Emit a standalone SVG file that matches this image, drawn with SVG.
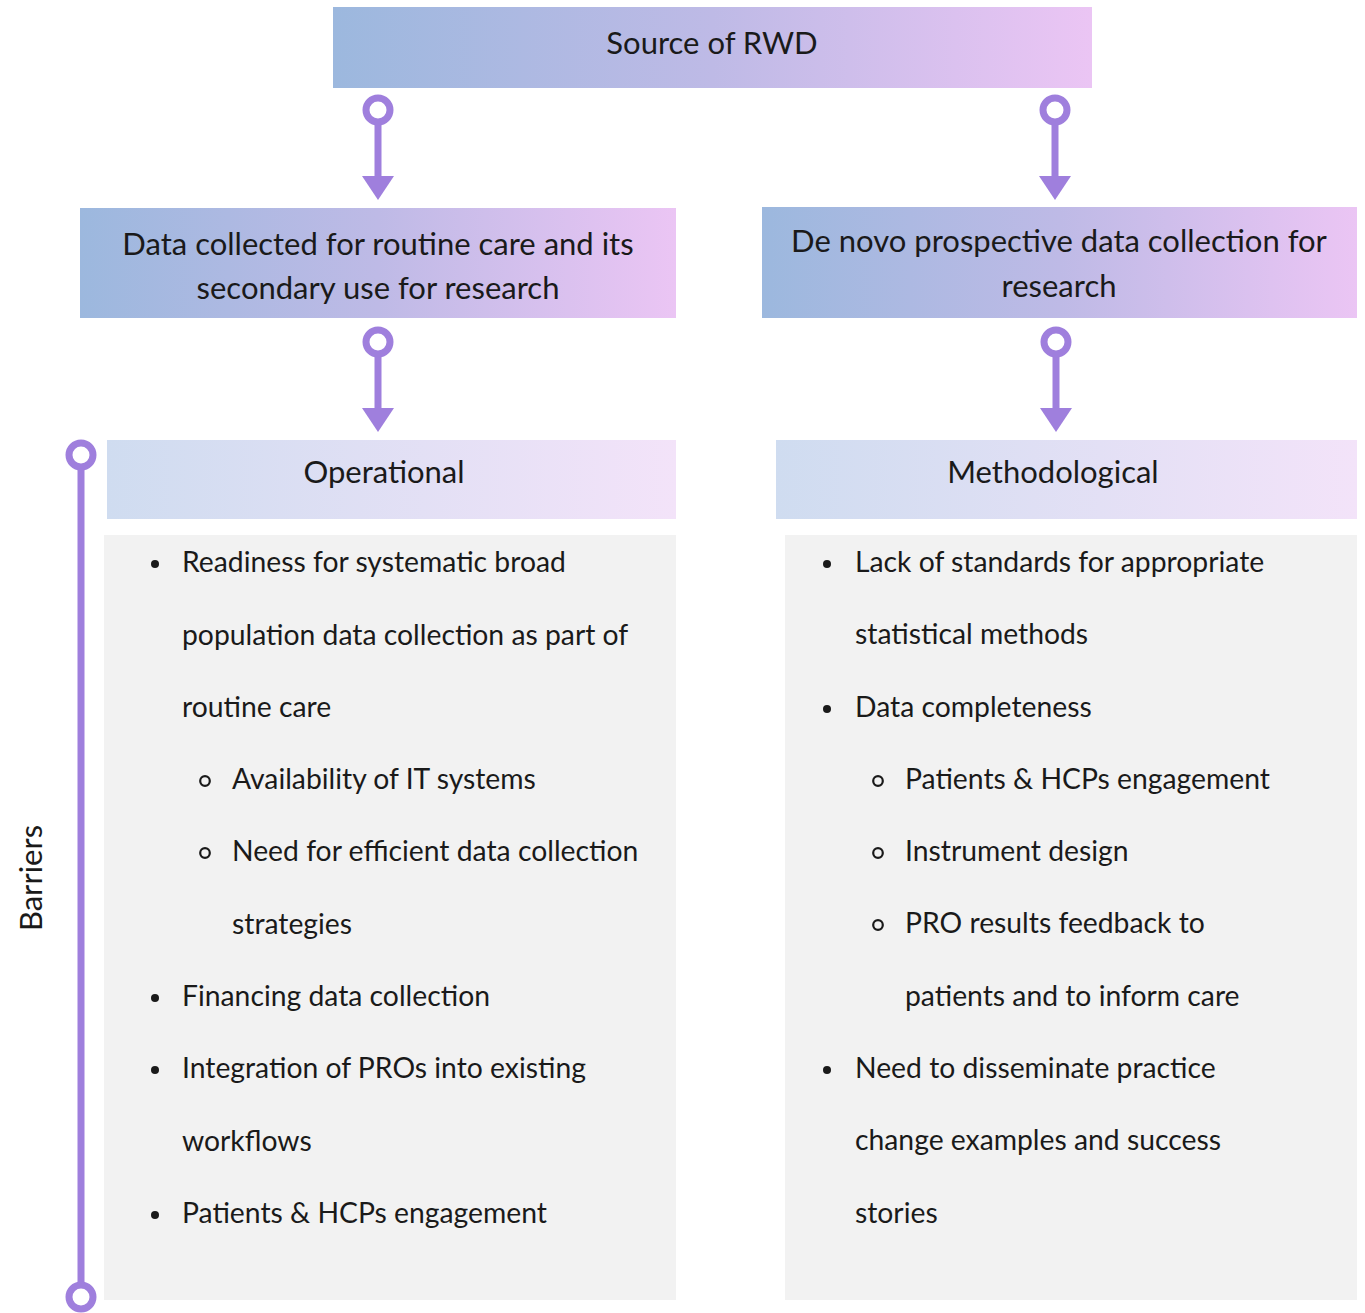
<svg xmlns="http://www.w3.org/2000/svg" width="1365" height="1313" viewBox="0 0 1365 1313">
<defs>
<linearGradient id="gMain" x1="0" y1="0" x2="1" y2="0"><stop offset="0" stop-color="#9cb8de"/><stop offset="0.5" stop-color="#bebae6"/><stop offset="1" stop-color="#ebc5f4"/></linearGradient>
<linearGradient id="gLight" x1="0" y1="0" x2="1" y2="0"><stop offset="0" stop-color="#cfdcf0"/><stop offset="1" stop-color="#f3e3f9"/></linearGradient>
</defs>
<style>
text{font-family:Lato,"Open Sans","Liberation Sans",sans-serif;fill:#1a1a1a}
.t{font-size:31px;text-anchor:middle}
.b{font-size:28.3px}
.purple{stroke:#9f7fdd;stroke-width:7;fill:none}
.ring{stroke:#9f7fdd;stroke-width:7;fill:#fff}
.dot{fill:#1a1a1a}
.odot{fill:none;stroke:#1a1a1a;stroke-width:2.2}
</style>
<rect width="1365" height="1313" fill="#fff"/>
<g id="connectors">
<line class="purple" x1="378" y1="123" x2="378" y2="178"/><path d="M362,176 L394,176 L378,200 Z" fill="#9f7fdd"/><circle class="ring" cx="378" cy="110" r="12"/>
<line class="purple" x1="1055" y1="123" x2="1055" y2="178"/><path d="M1039,176 L1071,176 L1055,200 Z" fill="#9f7fdd"/><circle class="ring" cx="1055" cy="110" r="12"/>
<line class="purple" x1="378" y1="354" x2="378" y2="410"/><path d="M362,408 L394,408 L378,432 Z" fill="#9f7fdd"/><circle class="ring" cx="378" cy="342" r="12"/>
<line class="purple" x1="1056" y1="354" x2="1056" y2="410"/><path d="M1040,408 L1072,408 L1056,432 Z" fill="#9f7fdd"/><circle class="ring" cx="1056" cy="342" r="12"/>
</g>
<g id="source"><rect x="333" y="7" width="759" height="81" fill="url(#gMain)"/><text class="t" x="712" y="54">Source of RWD</text></g>
<g id="routine"><rect x="80" y="208" width="596" height="110" fill="url(#gMain)"/><text class="t" x="378" y="255">Data collected for routine care and its</text><text class="t" x="378" y="299">secondary use for research</text></g>
<g id="denovo"><rect x="762" y="207" width="595" height="111" fill="url(#gMain)"/><text class="t" x="1059" y="252">De novo prospective data collection for</text><text class="t" x="1059" y="297">research</text></g>
<g id="operational"><rect x="107" y="440" width="569" height="79" fill="url(#gLight)"/><text class="t" x="384" y="483">Operational</text></g>
<g id="methodological"><rect x="776" y="440" width="581" height="79" fill="url(#gLight)"/><text class="t" x="1053" y="483">Methodological</text></g>
<g id="barriers">
<line class="purple" x1="81" y1="468" x2="81" y2="1284"/><circle class="ring" cx="81" cy="455" r="12"/><circle class="ring" cx="81" cy="1297" r="12"/>
<text class="t" transform="translate(42,878) rotate(-90)" x="0" y="0">Barriers</text>
</g>
<g id="operational-list">
<rect x="104" y="535" width="572" height="765" fill="#f2f2f2"/>
<circle class="dot" cx="155" cy="564" r="4"/><text class="b" x="182" y="572">Readiness for systematic broad</text>
<text class="b" x="182" y="645">population data collection as part of</text>
<text class="b" x="182" y="717">routine care</text>
<circle class="odot" cx="205" cy="781" r="4.8"/><text class="b" x="232" y="789">Availability of IT systems</text>
<circle class="odot" cx="205" cy="853" r="4.8"/><text class="b" x="232" y="861">Need for efficient data collection</text>
<text class="b" x="232" y="934">strategies</text>
<circle class="dot" cx="155" cy="998" r="4"/><text class="b" x="182" y="1006">Financing data collection</text>
<circle class="dot" cx="155" cy="1070" r="4"/><text class="b" x="182" y="1078">Integration of PROs into existing</text>
<text class="b" x="182" y="1151">workflows</text>
<circle class="dot" cx="155" cy="1215" r="4"/><text class="b" x="182" y="1223">Patients &amp; HCPs engagement</text>
</g>
<g id="methodological-list">
<rect x="785" y="535" width="572" height="765" fill="#f2f2f2"/>
<circle class="dot" cx="827" cy="564" r="4"/><text class="b" x="855" y="572">Lack of standards for appropriate</text>
<text class="b" x="855" y="644">statistical methods</text>
<circle class="dot" cx="827" cy="709" r="4"/><text class="b" x="855" y="717">Data completeness</text>
<circle class="odot" cx="878" cy="781" r="4.8"/><text class="b" x="905" y="789">Patients &amp; HCPs engagement</text>
<circle class="odot" cx="878" cy="853" r="4.8"/><text class="b" x="905" y="861">Instrument design</text>
<circle class="odot" cx="878" cy="925" r="4.8"/><text class="b" x="905" y="933">PRO results feedback to</text>
<text class="b" x="905" y="1006">patients and to inform care</text>
<circle class="dot" cx="827" cy="1070" r="4"/><text class="b" x="855" y="1078">Need to disseminate practice</text>
<text class="b" x="855" y="1150">change examples and success</text>
<text class="b" x="855" y="1223">stories</text>
</g>
</svg>
